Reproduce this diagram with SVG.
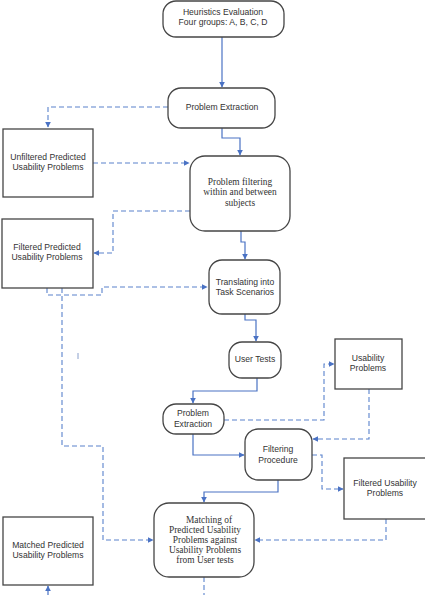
<svg xmlns="http://www.w3.org/2000/svg" width="425" height="595" viewBox="0 0 425 595">
<style>
.box{fill:#fff;stroke:#454545;stroke-width:1.3}
.t{font-family:"Liberation Sans",Arial,sans-serif;font-size:8.6px;fill:#333;text-anchor:middle}
.s{font-family:"Liberation Serif","Times New Roman",serif;font-size:9.4px;fill:#333;text-anchor:middle}
.c{fill:none;stroke:#4a72c4;stroke-width:1.2}
.d{fill:none;stroke:#5a82cc;stroke-width:1.1;stroke-dasharray:5,3}
</style>
<defs>
<marker id="a" viewBox="0 0 10 10" refX="9" refY="5" markerWidth="6" markerHeight="6" orient="auto" markerUnits="userSpaceOnUse">
<path d="M0,0 L10,5 L0,10 Z" fill="#4a72c4"/>
</marker>
</defs>
<rect width="425" height="595" fill="#fff"/>
<g id="connectors">
<path class="c" d="M222,37 V87" marker-end="url(#a)"/>
<path class="c" d="M222,128 V138 H240 V155" marker-end="url(#a)"/>
<path class="c" d="M241,231 V242 H245 V259" marker-end="url(#a)"/>
<path class="c" d="M245,313 V320 H256 V341" marker-end="url(#a)"/>
<path class="c" d="M257,378 V391 H193 V403" marker-end="url(#a)"/>
<path class="c" d="M193,434 V455 H244" marker-end="url(#a)"/>
<path class="c" d="M278,480 V492 H204 V502" marker-end="url(#a)"/>
<path class="d" d="M168,107 H48 V127" marker-end="url(#a)"/>
<path class="d" d="M93,163 H189" marker-end="url(#a)"/>
<path class="d" d="M190,211 H113 V253 H94" marker-end="url(#a)"/>
<path class="d" d="M47,288 V295 H102 V287 H207" marker-end="url(#a)"/>
<path class="d" d="M62,288 V446 H103 V540 H153" marker-end="url(#a)"/>
<path class="d" d="M224,420 H324 V364 H334" marker-end="url(#a)"/>
<path class="d" d="M369,389 V439 H313" marker-end="url(#a)"/>
<path class="d" d="M312,455 H322 V489 H343" marker-end="url(#a)"/>
<path class="d" d="M386,519 V540 H255" marker-end="url(#a)"/>
<path class="d" d="M204,577 V595"/>
<path class="c" d="M48,595 V586" marker-end="url(#a)"/>
<path d="M78,353 V359" stroke="#8aa0cc" stroke-width="1"/>
</g>
<g id="heuristics">
<rect class="box" x="163" y="1" width="121" height="36" rx="13"/>
<text class="t" x="223" y="15">Heuristics Evaluation</text>
<text class="t" x="223" y="25">Four groups: A, B, C, D</text>
</g>
<g id="extraction1">
<rect class="box" x="168" y="88" width="107" height="40" rx="13"/>
<text class="t" x="222" y="110">Problem Extraction</text>
</g>
<g id="unfiltered">
<rect class="box" x="3" y="129" width="90" height="68"/>
<text class="t" x="48" y="160">Unfiltered Predicted</text>
<text class="t" x="48" y="170">Usability Problems</text>
</g>
<g id="filtering1">
<rect class="box" x="190" y="156" width="100" height="75" rx="15"/>
<text class="s" x="240" y="185">Problem filtering</text>
<text class="s" x="240" y="195">within and between</text>
<text class="s" x="240" y="206">subjects</text>
</g>
<g id="filteredPredicted">
<rect class="box" x="2" y="219" width="91" height="69"/>
<text class="t" x="47" y="250">Filtered Predicted</text>
<text class="t" x="47" y="260">Usability Problems</text>
</g>
<g id="translating">
<rect class="box" x="209" y="260" width="71" height="54" rx="13"/>
<text class="t" x="245" y="285">Translating into</text>
<text class="t" x="245" y="295">Task Scenarios</text>
</g>
<g id="userTests">
<rect class="box" x="229" y="342" width="52" height="36" rx="13"/>
<text class="t" x="255" y="362">User Tests</text>
</g>
<g id="usabilityProblems">
<rect class="box" x="335" y="339" width="67" height="50"/>
<text class="t" x="368" y="361">Usability</text>
<text class="t" x="368" y="371">Problems</text>
</g>
<g id="extraction2">
<rect class="box" x="163" y="404" width="61" height="30" rx="13"/>
<text class="t" x="193" y="416">Problem</text>
<text class="t" x="193" y="427">Extraction</text>
</g>
<g id="filteringProcedure">
<rect class="box" x="245" y="429" width="67" height="51" rx="13"/>
<text class="t" x="278" y="452">Filtering</text>
<text class="t" x="278" y="463">Procedure</text>
</g>
<g id="filteredUsability">
<rect class="box" x="344" y="458" width="84" height="61"/>
<text class="t" x="385" y="486">Filtered Usability</text>
<text class="t" x="385" y="496">Problems</text>
</g>
<g id="matching">
<rect class="box" x="154" y="503" width="100" height="74" rx="15"/>
<text class="s" x="209" y="523">Matching of</text>
<text class="s" x="205" y="533">Predicted Usability</text>
<text class="s" x="205" y="543">Problems against</text>
<text class="s" x="205" y="553">Usability Problems</text>
<text class="s" x="205" y="563">from User tests</text>
</g>
<g id="matched">
<rect class="box" x="3" y="517" width="90" height="68"/>
<text class="t" x="48" y="548">Matched Predicted</text>
<text class="t" x="48" y="558">Usability Problems</text>
</g>
</svg>
